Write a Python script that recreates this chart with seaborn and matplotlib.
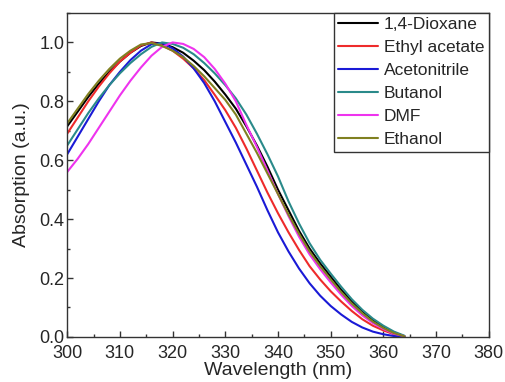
import numpy as np
import pandas as pd
import matplotlib
matplotlib.use("Agg")
import matplotlib.pyplot as plt
import seaborn as sns
from matplotlib.ticker import MultipleLocator

# --Daten--
wellenlaenge = list(range(300, 366, 2))

dioxan = [0.715, 0.765, 0.815, 0.86, 0.90, 0.935, 0.965, 0.988, 1.0, 0.996, 0.984,
          0.965, 0.938, 0.906, 0.867, 0.823, 0.775, 0.715, 0.65, 0.578, 0.50, 0.43,
          0.36, 0.30, 0.25, 0.205, 0.16, 0.122, 0.088, 0.058, 0.034, 0.015, 0.002]
ethylacetat = [0.69, 0.745, 0.80, 0.85, 0.895, 0.935, 0.965, 0.99, 1.0, 0.99, 0.972,
               0.945, 0.912, 0.872, 0.822, 0.77, 0.71, 0.64, 0.565, 0.49, 0.42, 0.355,
               0.295, 0.24, 0.195, 0.155, 0.12, 0.088, 0.06, 0.038, 0.022, 0.009, 0.0]
acetonitril = [0.62, 0.68, 0.74, 0.80, 0.855, 0.90, 0.94, 0.972, 0.994, 0.998, 0.98,
               0.952, 0.912, 0.862, 0.80, 0.73, 0.66, 0.585, 0.51, 0.43, 0.355, 0.29,
               0.232, 0.182, 0.14, 0.105, 0.076, 0.051, 0.032, 0.018, 0.009, 0.003, 0.0]
butanol = [0.65, 0.705, 0.76, 0.81, 0.855, 0.895, 0.93, 0.96, 0.985, 1.0, 0.995,
           0.982, 0.96, 0.93, 0.895, 0.855, 0.81, 0.755, 0.69, 0.62, 0.545, 0.46,
           0.385, 0.318, 0.262, 0.215, 0.17, 0.128, 0.092, 0.062, 0.038, 0.018, 0.004]
dmf = [0.56, 0.605, 0.655, 0.71, 0.765, 0.82, 0.87, 0.915, 0.955, 0.985, 1.0,
       0.995, 0.978, 0.95, 0.91, 0.86, 0.80, 0.72, 0.645, 0.565, 0.485, 0.41,
       0.34, 0.28, 0.23, 0.185, 0.143, 0.105, 0.073, 0.047, 0.027, 0.011, 0.002]
ethanol = [0.725, 0.775, 0.825, 0.87, 0.91, 0.945, 0.972, 0.993, 0.998, 0.988, 0.972,
           0.95, 0.92, 0.885, 0.845, 0.805, 0.755, 0.69, 0.625, 0.555, 0.485, 0.415,
           0.35, 0.29, 0.24, 0.195, 0.152, 0.113, 0.08, 0.052, 0.03, 0.013, 0.002]

namen = ["1,4-Dioxane", "Ethyl acetate", "Acetonitrile", "Butanol", "DMF", "Ethanol"]
reihen = [dioxan, ethylacetat, acetonitril, butanol, dmf, ethanol]
farben = ["#000000", "#ee2b2b", "#1a1ad6", "#2a8a8a", "#ee33ee", "#808020"]

daten = pd.concat(
    [pd.DataFrame({"Wellenlaenge": wellenlaenge, "Absorption": r, "Loesungsmittel": n})
     for n, r in zip(namen, reihen)],
    ignore_index=True,
)

# --Diagramm--
sns.set_style("ticks")
plt.rcParams["font.family"] = ["Liberation Sans", "DejaVu Sans"]

fig, ax = plt.subplots(figsize=(5.05, 3.82), dpi=100)
fig.subplots_adjust(left=0.133, right=0.968, bottom=0.118, top=0.966)

sns.lineplot(data=daten, x="Wellenlaenge", y="Absorption", hue="Loesungsmittel",
             hue_order=namen, palette=dict(zip(namen, farben)), linewidth=1.5, ax=ax)

ax.set_xlim(300, 380)
ax.set_ylim(0, 1.1)
ax.xaxis.set_major_locator(MultipleLocator(10))
ax.xaxis.set_minor_locator(MultipleLocator(5))
ax.yaxis.set_major_locator(MultipleLocator(0.2))
ax.yaxis.set_minor_locator(MultipleLocator(0.1))
ax.yaxis.set_major_formatter(matplotlib.ticker.FormatStrFormatter("%.1f"))
ax.tick_params(which="both", direction="in", top=False, right=False, labelsize=13,
               color="#333333", width=1.0)
ax.tick_params(axis="x", which="both", pad=5.5)
ax.tick_params(axis="y", which="both", pad=2)
ax.tick_params(which="major", length=4)
ax.tick_params(which="minor", length=2.5)
for s in ax.spines.values():
    s.set_visible(True)
    s.set_color("#333333")
    s.set_linewidth(1.0)

ax.set_xlabel("Wavelength (nm)", fontsize=14, labelpad=0)
ax.set_ylabel("Absorption (a.u.)", fontsize=14, labelpad=6.5)

handles, labels = ax.get_legend_handles_labels()
leg = ax.legend(handles, labels, loc="upper right", fontsize=12.5, frameon=True,
                fancybox=False, framealpha=1, edgecolor="#333333", borderaxespad=0,
                borderpad=0.25, labelspacing=0.45, handlelength=2.3, handletextpad=0.35)
leg.get_frame().set_linewidth(1.0)

plt.savefig("out.png", dpi=100)
plt.close()
